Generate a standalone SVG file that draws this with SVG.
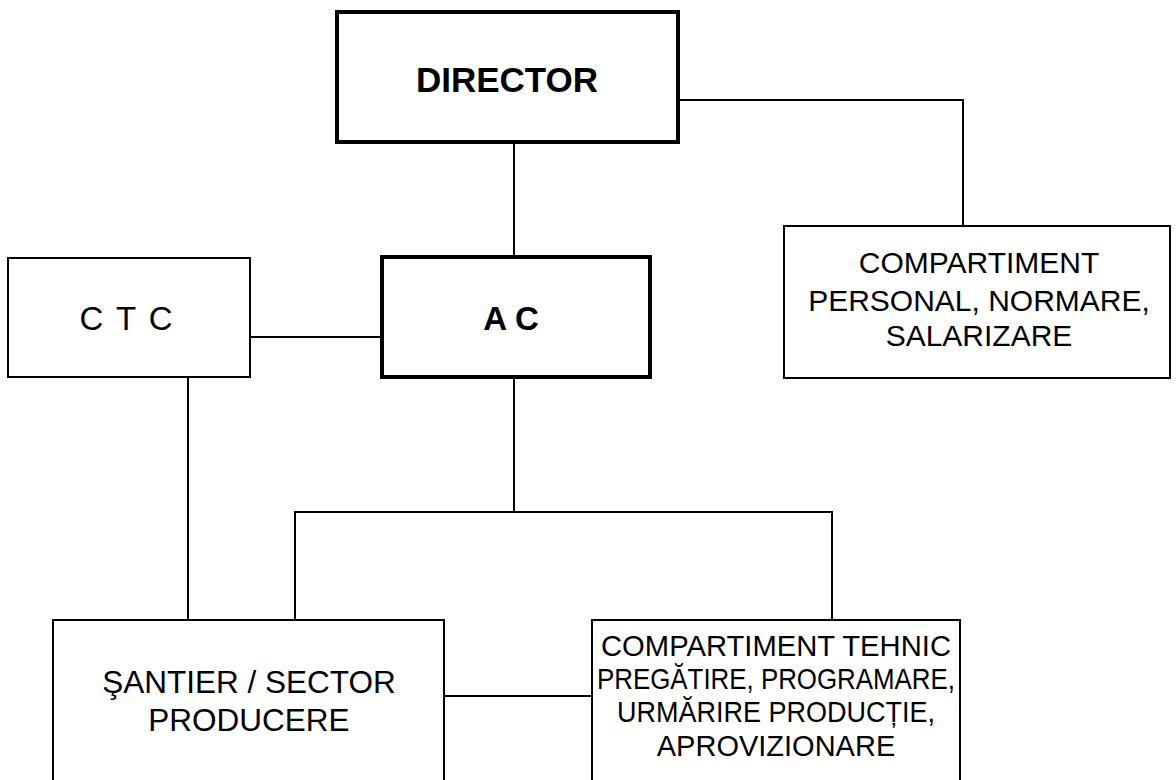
<svg xmlns="http://www.w3.org/2000/svg" width="1176" height="780" viewBox="0 0 1176 780">
<style>
.box{fill:#fff;stroke:#000;stroke-width:2}
.thick{fill:#fff;stroke:#000;stroke-width:4}
.conn{fill:none;stroke:#000;stroke-width:2}
text{font-family:"Liberation Sans",Arial,sans-serif;font-size:30px;fill:#000;text-anchor:middle}
.b{font-weight:bold;font-size:35px}
.t{font-size:29px}
</style>
<rect width="1176" height="780" fill="#fff"/>
<g id="connectors">
<line class="conn" x1="514" y1="142" x2="514" y2="255"/>
<polyline class="conn" points="678,100 963,100 963,226"/>
<line class="conn" x1="250" y1="337" x2="382" y2="337"/>
<line class="conn" x1="188" y1="377" x2="188" y2="620"/>
<line class="conn" x1="514" y1="377" x2="514" y2="512"/>
<polyline class="conn" points="295,620 295,512 832,512 832,620"/>
<line class="conn" x1="444" y1="696" x2="592" y2="696"/>
</g>
<g id="director">
<rect class="thick" x="337" y="12" width="341" height="130"/>
<text class="b" x="507" y="92">DIRECTOR</text>
</g>
<g id="personal">
<rect class="box" x="784" y="226" width="386" height="152"/>
<text x="979" y="273">COMPARTIMENT</text>
<text x="979" y="311">PERSONAL, NORMARE,</text>
<text x="979" y="346">SALARIZARE</text>
</g>
<g id="ctc">
<rect class="box" x="8" y="258" width="242" height="119"/>
<text x="127" y="330" style="font-size:33px;letter-spacing:2px">C T C</text>
</g>
<g id="ac">
<rect class="thick" x="382" y="257" width="268" height="120"/>
<text class="b" x="511" y="330" style="font-size:33px">A C</text>
</g>
<g id="santier">
<rect class="box" x="53" y="620" width="391" height="175"/>
<text x="249" y="693" style="font-size:31.5px">ŞANTIER / SECTOR</text>
<text x="249" y="731" style="font-size:31.5px">PRODUCERE</text>
</g>
<g id="tehnic">
<rect class="box" x="592" y="620" width="368" height="175"/>
<text class="t" x="776" y="656" textLength="350" lengthAdjust="spacingAndGlyphs">COMPARTIMENT TEHNIC</text>
<text class="t" x="776" y="689" textLength="358" lengthAdjust="spacingAndGlyphs">PREGĂTIRE, PROGRAMARE,</text>
<text class="t" x="776" y="722" textLength="318" lengthAdjust="spacingAndGlyphs">URMĂRIRE PRODUCȚIE,</text>
<text class="t" x="776" y="756">APROVIZIONARE</text>
</g>
</svg>
